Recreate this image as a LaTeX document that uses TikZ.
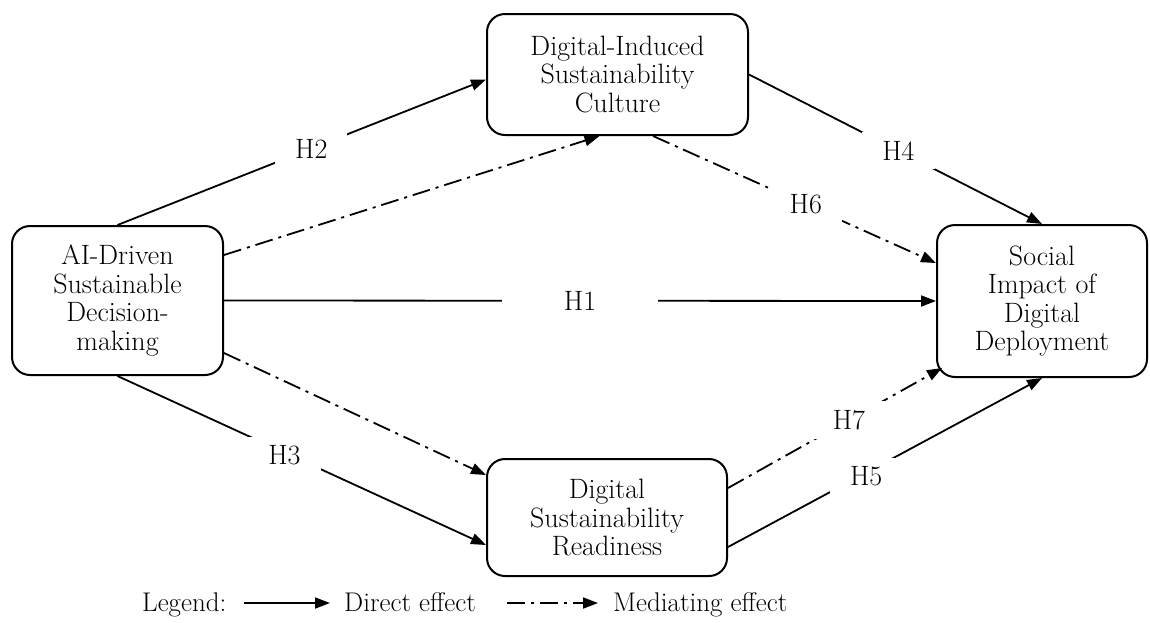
\documentclass[tikz,border=0pt]{standalone}
\usepackage{fontspec}
\usetikzlibrary{arrows.meta,calc}
\newcommand{\bxfont}{\fontsize{28}{28.5}\selectfont}
\newcommand{\lgfont}{\fontsize{27}{28}\selectfont}
\begin{document}
\begin{tikzpicture}[x=1pt,y=-1pt,
  box/.style={draw, line width=2pt, rounded corners=18pt, align=center, font=\bxfont, inner sep=0pt},
  arr/.style={line width=1.8pt, -{Triangle[length=15pt,width=11pt]}},
  med/.style={arr, dash pattern=on 18pt off 6pt on 3pt off 6pt},
  lbl/.style={fill=white, font=\bxfont, inner xsep=20pt, inner ysep=9pt}]
\useasboundingbox (0,0) rectangle (1150,622);

\node[box, minimum width=211pt, minimum height=149pt] (A) at (117.5,300.5) {AI-Driven\\Sustainable\\Decision-\\making};
\node[box, minimum width=261pt, minimum height=121pt] (B) at (617.5,74.5) {Digital-Induced\\Sustainability\\Culture};
\node[box, minimum width=240pt, minimum height=117pt] (C) at (607,517.5) {Digital\\Sustainability\\Readiness};
\node[box, minimum width=210pt, minimum height=152pt] (D) at (1042,301) {Social\\Impact of\\Digital\\Deployment};

% direct effects
\draw[arr] (A.north) -- node[lbl, pos=0.526] {H2} ($(B.west)+(0,5)$);
\draw[arr] (A.east) -- node[lbl, pos=0.5, inner xsep=62pt] {H1} (D.west);
\draw[arr] (A.south) -- node[lbl, pos=0.453, yshift=-3pt] {H3} ($(C.west)+(0,27.5)$);
\draw[arr] (B.east) -- node[lbl, pos=0.51] {H4} (D.north);
\draw[arr] ($(C.east)+(0,29.5)$) -- node[lbl, pos=0.44, yshift=-4pt] {H5} (D.south);

% mediating effects
\draw[med] ($(A.east)+(0,-45.5)$) -- ($(B.south)+(-18,0)$);
\draw[med] ($(A.east)+(0,52.5)$) -- ($(C.west)+(0,-42.5)$);
\draw[med] ($(B.south)+(35.5,0)$) -- node[lbl, pos=0.54] {H6} ($(D.west)+(0,-38)$);
\draw[med] ($(C.east)+(0,-29.5)$) -- node[lbl, pos=0.565] {H7} ($(D.south west)+(6,-10)$);

% legend
\node[anchor=base west, font=\lgfont, inner sep=0pt] (lg) at (142,611) {Legend:};
\coordinate (l1s) at (244,603);
\coordinate (l1e) at (330,603);
\node[anchor=base west, font=\lgfont, inner sep=0pt] (ld) at (344,611) {Direct effect};
\coordinate (l2s) at (507,603);
\coordinate (l2e) at (598,603);
\node[anchor=base west, font=\lgfont, inner sep=0pt] (lm) at (613,611) {Mediating effect};
\draw[arr] (l1s) -- (l1e);
\draw[med] (l2s) -- (l2e);
\end{tikzpicture}
\end{document}
